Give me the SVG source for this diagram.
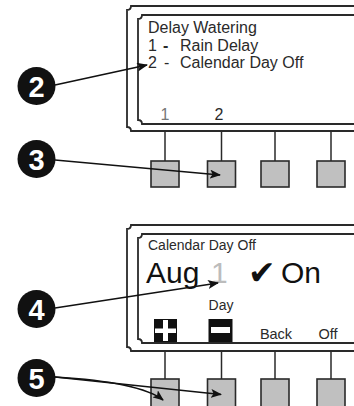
<svg xmlns="http://www.w3.org/2000/svg" width="354" height="406" viewBox="0 0 354 406">
<defs>
<style>
.frame{fill:none;stroke:#2a2a2a;stroke-width:1.8}
.btn{fill:#c0c0c0;stroke:#2a2a2a;stroke-width:1.6}
.stem{stroke:#2a2a2a;stroke-width:1.5}
.t{font-family:"Liberation Sans",Arial,sans-serif;fill:#2a2a2a}
.num{font-family:"Liberation Sans",Arial,sans-serif;font-weight:bold;font-size:29px;fill:#fff;text-anchor:middle}
.lead{fill:none;stroke:#111;stroke-width:1.7}
</style>
<marker id="ah" markerUnits="userSpaceOnUse" markerWidth="11" markerHeight="9" refX="10" refY="4.5" orient="auto">
<path d="M0,0 L11,4.5 L0,9 L2.5,4.5 z" fill="#111"/>
</marker>
</defs>
<rect width="354" height="406" fill="#fff"/>

<g id="panel-top">
<path class="frame" d="M354,6 H131 Q131,10 127,10 V127 Q131,127 131,131 H354"/>
<path class="frame" d="M354,15 H142 Q142,19 138,19 V120 Q142,120 142,124 H354"/>
<text class="t" x="148" y="33" font-size="16">Delay Watering</text>
<text class="t" x="148" y="50.5" font-size="16">1</text>
<text class="t" x="163" y="50.5" font-size="16" font-weight="bold">-</text>
<text class="t" x="180" y="50.5" font-size="16">Rain Delay</text>
<text class="t" x="148" y="68" font-size="16">2</text>
<text class="t" x="164" y="68" font-size="16">-</text>
<text class="t" x="180" y="68" font-size="16">Calendar Day Off</text>
<text class="t" x="165" y="120" font-size="16" text-anchor="middle" style="fill:#777">1</text>
<text class="t" x="219" y="120" font-size="16" text-anchor="middle">2</text>
</g>

<g id="buttons-top">
<line class="stem" x1="165" y1="131" x2="165" y2="161"/>
<line class="stem" x1="221.5" y1="131" x2="221.5" y2="161"/>
<line class="stem" x1="275" y1="131" x2="275" y2="161"/>
<line class="stem" x1="331" y1="131" x2="331" y2="161"/>
<rect class="btn" x="151" y="161" width="28" height="26"/>
<rect class="btn" x="207.5" y="161" width="28" height="26"/>
<rect class="btn" x="261" y="161" width="28" height="26"/>
<rect class="btn" x="317" y="161" width="28" height="26"/>
</g>

<g id="panel-bottom">
<path class="frame" d="M354,225 H131 Q131,229 127,229 V347 Q131,347 131,351 H354"/>
<path class="frame" d="M354,234 H142 Q142,238 138,238 V339 Q142,339 142,343 H354"/>
<text class="t" x="148" y="250" font-size="14">Calendar Day Off</text>
<text class="t" x="146" y="283" font-size="30" style="fill:#111">Aug</text>
<text class="t" x="211" y="283" font-size="30" style="fill:#bcbcbc">1</text>
<text x="248" y="284" font-size="33" font-family="DejaVu Sans, sans-serif" fill="#111">✔</text>
<text class="t" x="281" y="283" font-size="30" style="fill:#111">On</text>
<text class="t" x="221" y="310" font-size="14" text-anchor="middle">Day</text>
<rect x="154" y="319" width="23" height="23" fill="#111"/>
<rect x="155" y="328.5" width="21" height="4.5" fill="#fff"/>
<rect x="163" y="320" width="5" height="21" fill="#fff"/>
<rect x="208.5" y="319" width="24" height="23" fill="#111"/>
<rect x="211" y="327" width="19" height="6" fill="#fff"/>
<text class="t" x="276" y="339" font-size="14.5" text-anchor="middle">Back</text>
<text class="t" x="328" y="339" font-size="14.5" text-anchor="middle">Off</text>
</g>

<g id="buttons-bottom">
<line class="stem" x1="165" y1="351" x2="165" y2="379"/>
<line class="stem" x1="221.5" y1="351" x2="221.5" y2="379"/>
<line class="stem" x1="275" y1="351" x2="275" y2="379"/>
<line class="stem" x1="331" y1="351" x2="331" y2="379"/>
<rect class="btn" x="151" y="379" width="28" height="30"/>
<rect class="btn" x="207.5" y="379" width="28" height="30"/>
<rect class="btn" x="261" y="379" width="28" height="30"/>
<rect class="btn" x="317" y="379" width="28" height="30"/>
</g>

<g id="callout-2"><circle cx="36.5" cy="86" r="19" fill="#111"/><text class="num" x="36.5" y="96.5">2</text></g>
<g id="callout-3"><circle cx="36.5" cy="159" r="19" fill="#111"/><text class="num" x="36.5" y="169.5">3</text></g>
<g id="callout-4"><circle cx="36.5" cy="309" r="19" fill="#111"/><text class="num" x="36.5" y="319.5">4</text></g>
<g id="callout-5"><circle cx="36.5" cy="378" r="19" fill="#111"/><text class="num" x="36.5" y="388.5">5</text></g>

<g id="connectors">
<line class="lead" x1="55" y1="85" x2="147" y2="65" marker-end="url(#ah)"/>
<line class="lead" x1="55" y1="160" x2="220" y2="175" marker-end="url(#ah)"/>
<line class="lead" x1="55" y1="308" x2="218" y2="283" marker-end="url(#ah)"/>
<line class="lead" x1="55" y1="377" x2="221" y2="394.5" marker-end="url(#ah)"/>
<path class="lead" d="M55,377 Q140,382 163,400" marker-end="url(#ah)"/>
</g>
</svg>
